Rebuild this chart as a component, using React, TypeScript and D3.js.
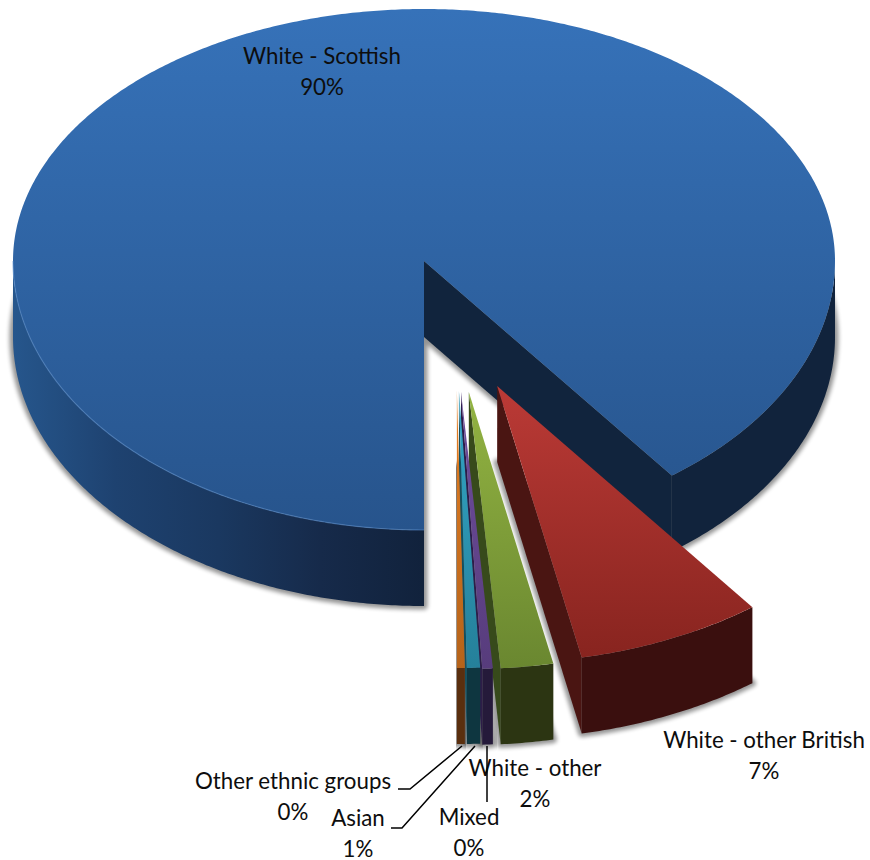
import React from "react";
import * as d3 from "d3";

const categories = ["White - Scottish", "White - other British", "White - other", "Mixed", "Asian", "Other ethnic groups"];
const shares = [89.7, 7.1, 2.0, 0.4, 0.5, 0.3];

// layout
const W = 870, H = 860;
const CX = 424, CY = 261, RX = 411, RY_BACK = 252, RY_FRONT = 269, DEPTH = 76;
const explodeX = [0, 0.178, 0.109, 0.09, 0.085, 0.08];
const explodeY = [0, 0.465, 0.487, 0.487, 0.483, 0.483];
const nearScale = [1, 1.03, 1.03, 1.03, 1.03, 1.03];
const topStart = ["#3672b9", "#bb3a36", "#93b442", "#6f4e9e", "#33a6c6", "#e67f22"];
const topEnd = ["#27548c", "#88241f", "#6a8730", "#573c7c", "#25809a", "#b5631a"];
const wallFill = ["#11243d", "#4a1512", "#374a1b", "#2d1d48", "#14505f", "#5f3210"];
const sideFill = ["#11233c", "#3a0f0e", "#2c3512", "#251a3a", "#0e3640", "#5a2f0e"];
const sideStops = ["#26568c", "#1e4270", "#1a3860", "#162a4a", "#11223c"];
const labelX = [322, 764, 535, 469, 358, 293];
const labelY = [56, 740, 768, 817, 818, 781];
const leaders: [number, number][][] = [
  [], [], [],
  [[487, 746], [487, 802]],
  [[475, 746], [402, 828], [391, 828]],
  [[462, 746], [410, 789], [398, 789]],
];

const px = d3.scaleLinear().domain([-1, 1]).range([CX - RX, CX + RX]);
const py = d3.scaleLinear().domain([-1, 0, 1]).range([CY - RY_BACK, CY, CY + RY_FRONT]);
const line = d3.line();
const pct = (v: number) => `${Math.round(v)}%`;

const arcPts = (a0: number, a1: number, i: number, dy = 0): [number, number][] => {
  const ex = explodeX[i], ey = explodeY[i], k = nearScale[i];
  const n = Math.max(1, Math.ceil(Math.abs(a1 - a0) / (Math.PI / 360)));
  return d3.range(n + 1).map((j) => {
    const a = a0 + ((a1 - a0) * j) / n;
    return [px(ex + k * Math.sin(a)), py(ey - k * Math.cos(a)) + dy] as [number, number];
  });
};
const apex = (i: number, dy = 0): [number, number] => [px(explodeX[i]), py(explodeY[i]) + dy];

// parts of an arc on the front half, where the outer side shows
const frontRuns = (a0: number, a1: number): [number, number][] => {
  const runs: [number, number][] = [];
  for (let k = 0; k < 3; k++) {
    const lo = Math.max(a0, Math.PI / 2 + k * 2 * Math.PI);
    const hi = Math.min(a1, (3 * Math.PI) / 2 + k * 2 * Math.PI);
    if (hi > lo) runs.push([lo, hi]);
  }
  return runs;
};

export default function App() {
  const pie = d3.pie<number>().sort(null).startAngle(Math.PI).endAngle(3 * Math.PI);
  const arcs = pie(shares);
  return (
    <svg width={W} height={H} viewBox={`0 0 ${W} ${H}`} style={{ position: "absolute", left: 0, top: 0, background: "#fff" }}>
      <defs>
        <filter id="blur" x="-10%" y="-10%" width="120%" height="120%">
          <feGaussianBlur stdDeviation="2.2" />
        </filter>
        {arcs.map((_, i) => (
          <linearGradient key={i} id={`top${i}`} x1="0" y1="0" x2="0" y2="1">
            <stop offset="0" stopColor={topStart[i]} />
            <stop offset="1" stopColor={topEnd[i]} />
          </linearGradient>
        ))}
        <linearGradient id="side0" gradientUnits="userSpaceOnUse" x1={CX - RX} y1="0" x2={CX} y2="0">
          {sideStops.map((c, i) => (
            <stop key={i} offset={i / (sideStops.length - 1)} stopColor={c} />
          ))}
        </linearGradient>
      </defs>
      {/* shadows fall from the bottom face of every slice */}
      <g>
        {arcs.map((d, i) => {
          const p = [apex(i, DEPTH), ...arcPts(d.startAngle, d.endAngle, i, DEPTH)];
          return (
            <path key={i} d={line(p) + "Z"} fill="#000" stroke="#000" strokeWidth={7} strokeLinejoin="round" opacity={0.42} filter="url(#blur)" />
          );
        })}
      </g>
      {arcs.map((d, i) => {
        const endP = arcPts(d.endAngle, d.endAngle, i)[0];
        const wall: [number, number][] = [apex(i), endP, [endP[0], endP[1] + DEPTH], apex(i, DEPTH)];
        return (
          <g key={i}>
            <path d={line(wall) + "Z"} fill={wallFill[i]} />
            {frontRuns(d.startAngle, d.endAngle).map(([a, b], j) => {
              const upper = arcPts(a, b, i);
              const lower = arcPts(b, a, i, DEPTH);
              const leftPart = i === 0 && b <= 2 * Math.PI;
              return <path key={j} d={line([...upper, ...lower]) + "Z"} fill={leftPart ? "url(#side0)" : sideFill[i]} />;
            })}
            <path d={line([apex(i), ...arcPts(d.startAngle, d.endAngle, i)]) + "Z"} fill={`url(#top${i})`} />
            {i === 0 && frontRuns(d.startAngle, d.endAngle).slice(0, 1).map(([a, b], j) => (
              <path key={j} d={line(arcPts(a, b, i))!} fill="none" stroke="#5b8fd0" strokeOpacity={0.55} strokeWidth={1.2} />
            ))}
          </g>
        );
      })}
      <g fontFamily="Lato, Carlito, sans-serif" fontSize={22.3} fill="#0d0d0d" textAnchor="middle">
        {categories.map((c, i) => (
          <g key={c}>
            <text x={labelX[i]} y={labelY[i]} dy="0.35em">{c}</text>
            <text x={labelX[i]} y={labelY[i] + 31} dy="0.35em">{pct(shares[i])}</text>
          </g>
        ))}
      </g>
      {leaders.map((l, i) => l.length > 0 && (
        <path key={i} d={line(l)!} fill="none" stroke="#000" strokeWidth={1.5} />
      ))}
    </svg>
  );
}
